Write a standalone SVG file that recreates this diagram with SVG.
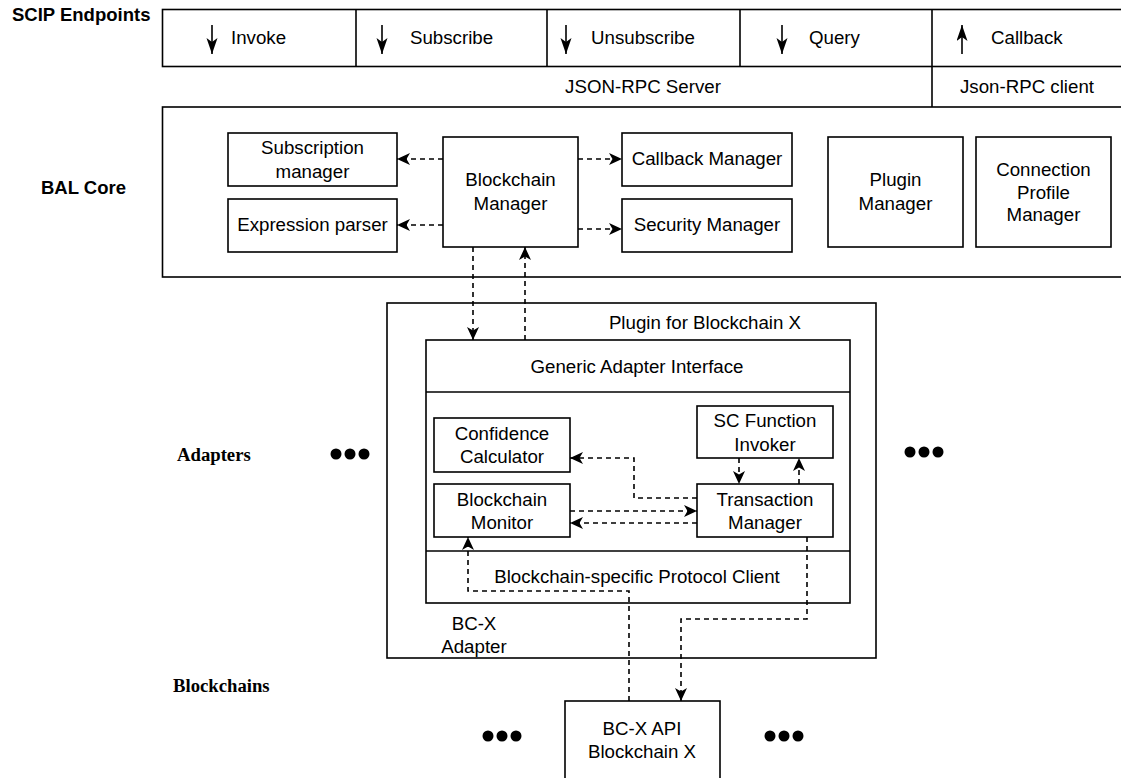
<svg xmlns="http://www.w3.org/2000/svg" width="1121" height="778" viewBox="0 0 1121 778">
  <defs>
    <style>
      .box { fill: #ffffff; stroke: #000000; stroke-width: 1.6; }
      .frame { fill: none; stroke: #000000; stroke-width: 1.6; }
      .txt { font-family: "Liberation Sans", Arial, sans-serif; font-size: 18.7px; fill: #000000; }
      .mid { text-anchor: middle; }
      .hdr { font-family: "Liberation Sans", Arial, sans-serif; font-size: 18.5px; font-weight: bold; fill: #000000; }
      .layer { font-family: "Liberation Serif", "Times New Roman", serif; font-size: 18.7px; font-weight: bold; fill: #000000; }
      .dash { fill: none; stroke: #000000; stroke-width: 1.6; stroke-dasharray: 5 4; }
      .solid { fill: none; stroke: #000000; stroke-width: 1.6; }
      .dot { fill: #000000; }
    </style>
    <!-- classic notched arrowhead for dashed connectors -->
    <marker id="arr" markerUnits="userSpaceOnUse" markerWidth="15" markerHeight="13" refX="13" refY="6" orient="auto">
      <path d="M0,0 L13,6 L0,12 L3.5,6 Z" fill="#000000"/>
    </marker>
    <!-- narrow arrowhead for endpoint direction arrows -->
    <marker id="arrS" markerUnits="userSpaceOnUse" markerWidth="18" markerHeight="12" refX="16" refY="5.5" orient="auto">
      <path d="M0,0 L16,5.5 L0,11 L4,5.5 Z" fill="#000000"/>
    </marker>
  </defs>

  <rect width="1121" height="778" fill="#ffffff"/>

  <!-- layer captions -->
  <text class="hdr" x="12" y="21">SCIP Endpoints</text>
  <text class="hdr" x="41" y="194">BAL Core</text>
  <text class="layer" x="177" y="461">Adapters</text>
  <text class="layer" x="173" y="692">Blockchains</text>

  <!-- SCIP endpoint row and JSON-RPC row -->
  <g id="endpoints">
    <rect class="frame" x="162.5" y="9.5" width="970" height="57"/>
    <line class="solid" x1="356" y1="9.5" x2="356" y2="66.5"/>
    <line class="solid" x1="547" y1="9.5" x2="547" y2="66.5"/>
    <line class="solid" x1="740" y1="9.5" x2="740" y2="66.5"/>
    <line class="solid" x1="932" y1="9.5" x2="932" y2="107"/>

    <line class="solid" x1="212" y1="25" x2="212" y2="54" marker-end="url(#arrS)"/>
    <text class="txt" x="231" y="44">Invoke</text>
    <line class="solid" x1="382" y1="25" x2="382" y2="54" marker-end="url(#arrS)"/>
    <text class="txt" x="410" y="44">Subscribe</text>
    <line class="solid" x1="566" y1="25" x2="566" y2="54" marker-end="url(#arrS)"/>
    <text class="txt" x="591" y="44">Unsubscribe</text>
    <line class="solid" x1="782" y1="25" x2="782" y2="54" marker-end="url(#arrS)"/>
    <text class="txt" x="809" y="44">Query</text>
    <line class="solid" x1="962" y1="54" x2="962" y2="25" marker-end="url(#arrS)"/>
    <text class="txt" x="991" y="44">Callback</text>

    <text class="txt mid" x="643" y="93">JSON-RPC Server</text>
    <text class="txt mid" x="1027" y="93">Json-RPC client</text>
  </g>

  <!-- BAL core container -->
  <g id="bal-core">
    <rect class="frame" x="162.5" y="107" width="970" height="170"/>
  </g>

  <g id="subscription-manager">
    <rect class="box" x="228" y="133" width="169" height="53"/>
    <text class="txt mid" x="312.5" y="154">Subscription</text>
    <text class="txt mid" x="312.5" y="178">manager</text>
  </g>
  <g id="expression-parser">
    <rect class="box" x="228" y="199" width="169" height="53"/>
    <text class="txt mid" x="312.5" y="231">Expression parser</text>
  </g>
  <g id="blockchain-manager">
    <rect class="box" x="443" y="137" width="135" height="110"/>
    <text class="txt mid" x="510.5" y="186">Blockchain</text>
    <text class="txt mid" x="510.5" y="210">Manager</text>
  </g>
  <g id="callback-manager">
    <rect class="box" x="622" y="133" width="170" height="53"/>
    <text class="txt mid" x="707" y="165">Callback Manager</text>
  </g>
  <g id="security-manager">
    <rect class="box" x="622" y="199" width="170" height="53"/>
    <text class="txt mid" x="707" y="231">Security Manager</text>
  </g>
  <g id="plugin-manager">
    <rect class="box" x="828" y="137" width="135" height="110"/>
    <text class="txt mid" x="895.5" y="186">Plugin</text>
    <text class="txt mid" x="895.5" y="210">Manager</text>
  </g>
  <g id="connection-profile-manager">
    <rect class="box" x="976" y="137" width="135" height="110"/>
    <text class="txt mid" x="1043.5" y="176">Connection</text>
    <text class="txt mid" x="1043.5" y="198.5">Profile</text>
    <text class="txt mid" x="1043.5" y="221">Manager</text>
  </g>

  <!-- adapter plugin -->
  <g id="plugin-blockchain-x">
    <rect class="box" x="387" y="303" width="489" height="355"/>
    <text class="txt mid" x="705" y="329">Plugin for Blockchain X</text>
    <text class="txt mid" x="474" y="630">BC-X</text>
    <text class="txt mid" x="474" y="653">Adapter</text>
  </g>
  <g id="generic-adapter-interface">
    <rect class="box" x="426" y="340" width="424" height="263"/>
    <line class="solid" x1="426" y1="392" x2="850" y2="392"/>
    <line class="solid" x1="426" y1="551" x2="850" y2="551"/>
    <text class="txt mid" x="637" y="373">Generic Adapter Interface</text>
    <text class="txt mid" x="637" y="583">Blockchain-specific Protocol Client</text>
  </g>
  <g id="confidence-calculator">
    <rect class="box" x="434" y="418" width="136" height="54"/>
    <text class="txt mid" x="502" y="440">Confidence</text>
    <text class="txt mid" x="502" y="463">Calculator</text>
  </g>
  <g id="sc-function-invoker">
    <rect class="box" x="697" y="406" width="136" height="52"/>
    <text class="txt mid" x="765" y="427">SC Function</text>
    <text class="txt mid" x="765" y="451">Invoker</text>
  </g>
  <g id="blockchain-monitor">
    <rect class="box" x="434" y="484" width="136" height="53"/>
    <text class="txt mid" x="502" y="506">Blockchain</text>
    <text class="txt mid" x="502" y="529">Monitor</text>
  </g>
  <g id="transaction-manager">
    <rect class="box" x="697" y="484" width="136" height="53"/>
    <text class="txt mid" x="765" y="506">Transaction</text>
    <text class="txt mid" x="765" y="529">Manager</text>
  </g>

  <!-- blockchain -->
  <g id="bcx-api">
    <rect class="box" x="565" y="701" width="155" height="90"/>
    <text class="txt mid" x="642" y="735">BC-X API</text>
    <text class="txt mid" x="642" y="758">Blockchain X</text>
  </g>

  <!-- ellipses marking further adapters and blockchains -->
  <g id="more-adapters-left">
    <circle class="dot" cx="336" cy="454" r="5.5"/>
    <circle class="dot" cx="350" cy="454" r="5.5"/>
    <circle class="dot" cx="364" cy="454" r="5.5"/>
  </g>
  <g id="more-adapters-right">
    <circle class="dot" cx="910" cy="452" r="5.5"/>
    <circle class="dot" cx="924" cy="452" r="5.5"/>
    <circle class="dot" cx="938" cy="452" r="5.5"/>
  </g>
  <g id="more-chains-left">
    <circle class="dot" cx="488" cy="736" r="5.5"/>
    <circle class="dot" cx="502" cy="736" r="5.5"/>
    <circle class="dot" cx="516" cy="736" r="5.5"/>
  </g>
  <g id="more-chains-right">
    <circle class="dot" cx="770" cy="736" r="5.5"/>
    <circle class="dot" cx="784" cy="736" r="5.5"/>
    <circle class="dot" cx="798" cy="736" r="5.5"/>
  </g>

  <!-- connectors -->
  <g id="connectors">
    <path class="dash" d="M443,159 L397,159" marker-end="url(#arr)"/>
    <path class="dash" d="M443,225 L397,225" marker-end="url(#arr)"/>
    <path class="dash" d="M578,159 L622,159" marker-end="url(#arr)"/>
    <path class="dash" d="M578,229 L622,229" marker-end="url(#arr)"/>
    <path class="dash" d="M473,247 L473,340" marker-end="url(#arr)"/>
    <path class="dash" d="M525,340 L525,247" marker-end="url(#arr)"/>
    <path class="dash" d="M697,498 L634,498 L634,458 L570,458" marker-end="url(#arr)"/>
    <path class="dash" d="M739,458 L739,484" marker-end="url(#arr)"/>
    <path class="dash" d="M799,484 L799,458" marker-end="url(#arr)"/>
    <path class="dash" d="M570,511 L697,511" marker-end="url(#arr)"/>
    <path class="dash" d="M697,523 L570,523" marker-end="url(#arr)"/>
    <path class="dash" d="M629,701 L629,591 L468,591 L468,537" marker-end="url(#arr)"/>
    <path class="dash" d="M807,537 L807,619 L681,619 L681,701" marker-end="url(#arr)"/>
  </g>
</svg>
